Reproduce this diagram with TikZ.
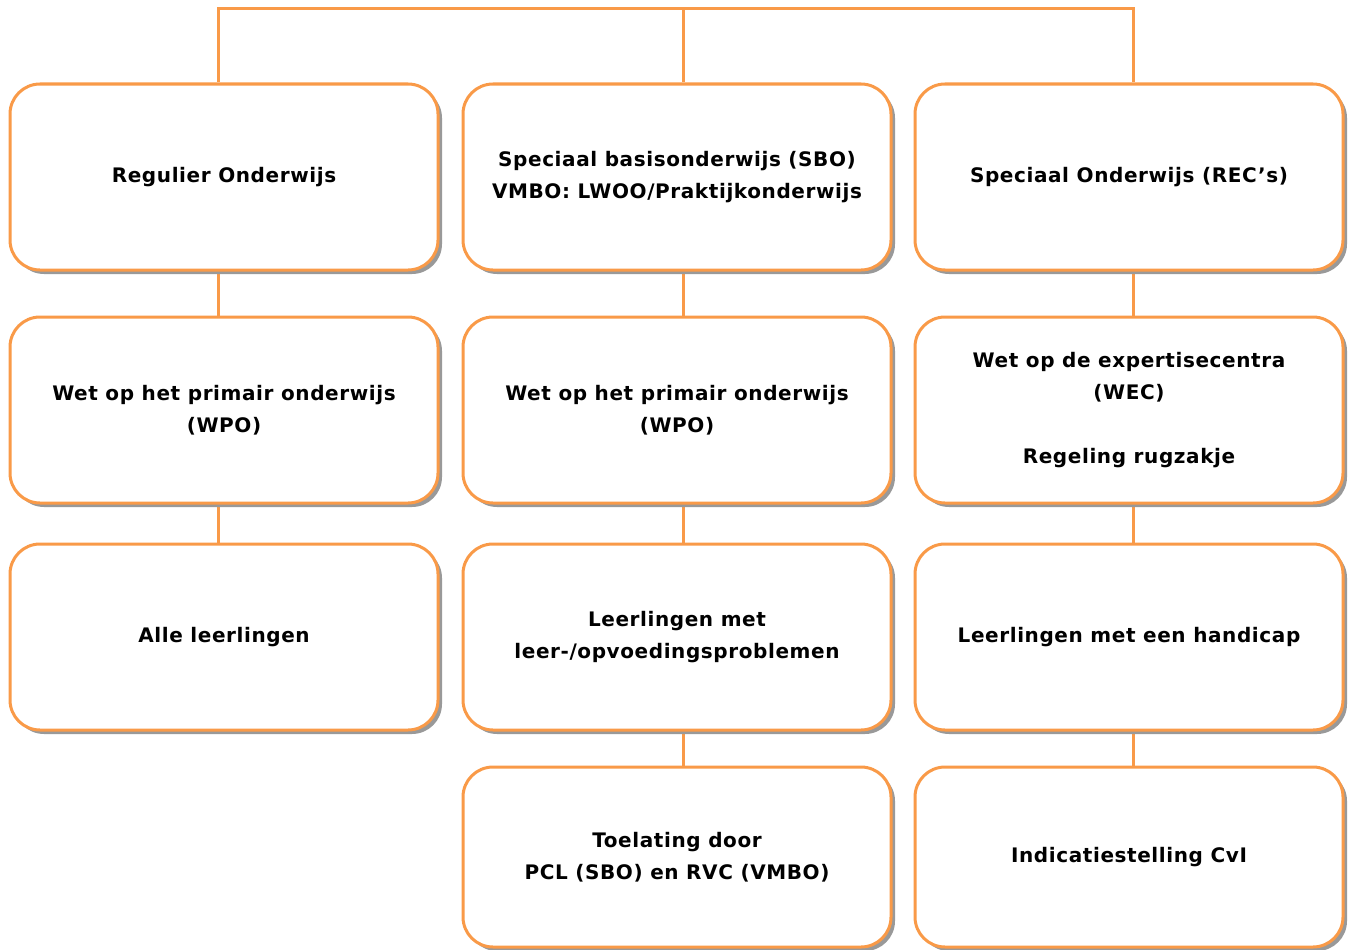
\documentclass[tikz,border=0pt]{standalone}
\usepackage{fontspec}
\setmainfont[LetterSpace=3]{DejaVu Sans}
\usetikzlibrary{shadows,backgrounds}
\definecolor{boxorange}{HTML}{F99A48}
\tikzset{
  box/.style={draw=boxorange, line width=3pt, rounded corners=30pt, fill=white,
    minimum width=428pt, minimum height=186pt, align=center,
    font=\fontsize{20}{32}\selectfont\bfseries,
    drop shadow={shadow xshift=4pt, shadow yshift=-4pt, fill=black!40, opacity=1}},
  link/.style={draw=boxorange, line width=3pt}
}

\begin{document}
\begin{tikzpicture}[x=1pt,y=-1pt]
		\useasboundingbox (0,0) rectangle (1352,950);
		% soorten onderwijs
		\node[box] (reg) at (224,177) {Regulier Onderwijs};
		\node[box] (sbo) at (677,177) {Speciaal basisonderwijs (SBO)\\VMBO: LWOO/Praktijkonderwijs};
		\node[box] (so) at (1129,177) {Speciaal Onderwijs (REC's)};
		% wetten
		\node[box] (wporeg) at (224,410) {Wet op het primair onderwijs\\(WPO)};
		\node[box] (wposbo) at (677,410) {Wet op het primair onderwijs\\(WPO)};
		\node[box] (wec) at (1129,410) {Wet op de expertisecentra\\(WEC)\\[32pt]Regeling rugzakje};
		% leerlingen
		\node[box] (alle) at (224,637) {Alle leerlingen};
		\node[box] (leerprob) at (677,637) {Leerlingen met\\leer-/opvoedingsproblemen};
		\node[box] (handicap) at (1129,637) {Leerlingen met een handicap};
		% toelating
		\node[box, minimum height=180pt] (toelating) at (677,857) {Toelating door\\PCL (SBO) en RVC (VMBO)};
		\node[box, minimum height=180pt] (indicatie) at (1129,857) {Indicatiestelling CvI};

		\begin{scope}[on background layer]
			\coordinate (bar) at (683,9);
			\draw[link] ([xshift=-6pt]reg.north) |- (bar) -| ([xshift=4pt]so.north);
			\draw[link] (bar) -- ([xshift=6pt]sbo.north);
			\draw[link] ([xshift=-6pt]reg.south) -- ([xshift=-6pt]wporeg.north);
			\draw[link] ([xshift=-6pt]wporeg.south) -- ([xshift=-6pt]alle.north);
			\draw[link] ([xshift=6pt]sbo.south) -- ([xshift=6pt]wposbo.north);
			\draw[link] ([xshift=6pt]wposbo.south) -- ([xshift=6pt]leerprob.north);
			\draw[link] ([xshift=6pt]leerprob.south) -- ([xshift=6pt]toelating.north);
			\draw[link] ([xshift=4pt]so.south) -- ([xshift=4pt]wec.north);
			\draw[link] ([xshift=4pt]wec.south) -- ([xshift=4pt]handicap.north);
			\draw[link] ([xshift=4pt]handicap.south) -- ([xshift=4pt]indicatie.north);
		\end{scope}
	\end{tikzpicture}
\end{document}
